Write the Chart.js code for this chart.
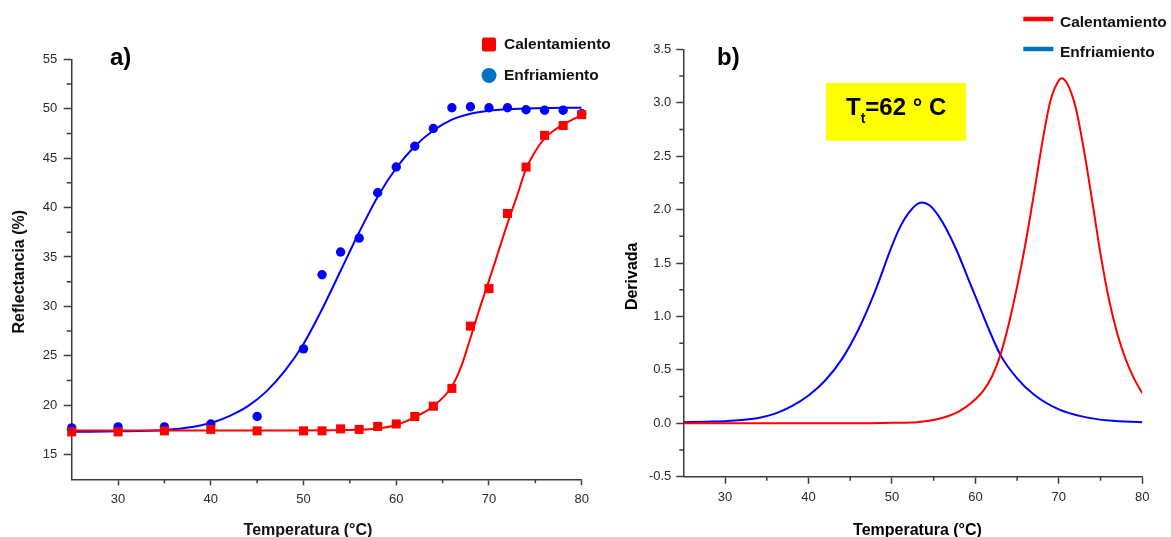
<!DOCTYPE html>
<html>
<head>
<meta charset="utf-8">
<script src="https://cdn.jsdelivr.net/npm/chart.js@4.4.1/dist/chart.umd.min.js"></script>
<style>
  body { margin: 0; background: #fff; }
  #wrap { position: relative; width: 1171px; height: 537px; }
  canvas { position: absolute; top: 0; }
  #chartA { left: 0; }
  #chartB { left: 600px; }
</style>
</head>
<body>
<div id="wrap">
  <canvas id="chartA" width="640" height="537"></canvas>
  <canvas id="chartB" width="571" height="537"></canvas>
</div>
<script>
const seriesNames = ['Calentamiento', 'Enfriamiento'];

// a) measured reflectance (%)
const tempMeas = [25, 30, 35, 40, 45, 50, 52, 54, 56, 58, 60, 62, 64, 66, 68, 70, 72, 74, 76, 78, 80];
const reflCal = [17.3, 17.3, 17.4, 17.55, 17.4, 17.4, 17.4, 17.6, 17.55, 17.85, 18.1, 18.85, 19.9, 21.7, 28.0, 31.8, 39.4, 44.1, 47.3, 48.3, 49.4];
const reflEnf = [17.7, 17.8, 17.8, 18.1, 18.85, 25.7, 33.2, 35.5, 36.9, 41.5, 44.1, 46.2, 48.0, 50.1, 50.2, 50.1, 50.1, 49.9, 49.85, 49.85, 49.5];

// a) fitted curves
const fitCalX = [25, 35, 45, 55, 58, 60, 62, 64, 66, 67, 68, 69, 70, 71, 72, 73, 74, 75, 76, 77, 78, 79, 80];
const fitCalY = [17.45, 17.45, 17.45, 17.5, 17.65, 18.0, 18.8, 19.9, 21.9, 23.9, 26.8, 29.8, 32.6, 35.5, 38.4, 41.1, 43.9, 45.7, 47.0, 47.8, 48.4, 48.9, 49.35];
const fitEnfX = [25, 30, 35, 38, 40, 42, 44, 46, 48, 50, 52, 54, 56, 58, 60, 62, 64, 66, 68, 70, 72, 75, 80];
const fitEnfY = [17.3, 17.35, 17.5, 17.8, 18.2, 18.9, 19.9, 21.4, 23.5, 26.2, 29.7, 33.6, 37.5, 41.1, 44.0, 46.2, 47.8, 48.9, 49.5, 49.8, 49.95, 50.05, 50.1];

// b) derivative
const derCalX = [25, 30, 35, 40, 45, 50, 53, 55, 56, 57, 58, 59, 60, 61, 62, 63, 64, 65, 66, 67, 68, 69, 70, 70.3, 71, 72, 73, 74, 75, 76, 77, 78, 79, 80];
const derCalY = [0, 0, 0, 0, 0, 0.005, 0.01, 0.03, 0.05, 0.075, 0.11, 0.16, 0.225, 0.31, 0.44, 0.64, 0.93, 1.28, 1.68, 2.14, 2.62, 3.02, 3.21, 3.23, 3.18, 2.96, 2.56, 2.08, 1.58, 1.16, 0.84, 0.60, 0.42, 0.28];
const derEnfX = [25, 28, 30, 32, 34, 36, 38, 40, 42, 44, 46, 48, 50, 51, 52, 53, 53.6, 54.5, 55.5, 56.5, 57.8, 59, 60.2, 61.5, 63, 65, 67, 70, 73, 76, 80];
const derEnfY = [0.01, 0.015, 0.02, 0.03, 0.05, 0.09, 0.16, 0.26, 0.40, 0.60, 0.88, 1.24, 1.66, 1.84, 1.97, 2.05, 2.066, 2.04, 1.95, 1.82, 1.61, 1.38, 1.15, 0.90, 0.64, 0.42, 0.27, 0.13, 0.06, 0.025, 0.01];

// tick labels
const ticksAx = [30, 40, 50, 60, 70, 80];
const minorAx = [35, 45, 55, 65, 75];
const ticksAy = [15, 20, 25, 30, 35, 40, 45, 50, 55];
const minorAy = [17.5, 22.5, 27.5, 32.5, 37.5, 42.5, 47.5, 52.5];
const ticksBx = [30, 40, 50, 60, 70, 80];
const minorBx = [35, 45, 55, 65, 75];
const ticksBy = [-0.5, 0, 0.5, 1, 1.5, 2, 2.5, 3, 3.5];
const minorBy = [-0.25, 0.25, 0.75, 1.25, 1.75, 2.25, 2.75, 3.25];

const RED = '#ff0000';
const BLUE = '#0000ff';
const LEG_BLUE = '#0070c0';
const AXIS = '#3c3c3c';
const FONT = '"Liberation Sans", Arial, sans-serif';

const pts = (xs, ys) => xs.map((x, i) => ({x, y: ys[i]}));

function axis(min, max, ticks, tickLen, pad, size, horiz, fmt) {
  return {
    type: 'linear',
    min, max,
    afterBuildTicks: s => { s.ticks = ticks.map(v => ({value: v})); },
    afterFit: s => { if (horiz) s.height = size; else s.width = size; },
    grid: {drawOnChartArea: false, drawTicks: true, tickLength: tickLen, tickColor: AXIS, tickWidth: 1.5},
    border: {display: true, color: AXIS, width: 1.5},
    ticks: {
      font: {family: FONT, size: 13},
      color: '#2a2a2a',
      padding: pad,
      maxRotation: 0,
      autoSkip: false,
      callback: fmt || (v => v)
    }
  };
}

const minorTicks = {
  id: 'minorTicks',
  afterDraw(chart, args, opts) {
    const {ctx, scales: {x, y}} = chart;
    ctx.save();
    ctx.strokeStyle = AXIS;
    ctx.lineWidth = 1.5;
    ctx.beginPath();
    opts.x.forEach(v => {
      const p = x.getPixelForValue(v);
      ctx.moveTo(p, x.top);
      ctx.lineTo(p, x.top + opts.lenX);
    });
    opts.y.forEach(v => {
      const p = y.getPixelForValue(v);
      ctx.moveTo(y.right, p);
      ctx.lineTo(y.right - opts.lenY, p);
    });
    ctx.stroke();
    ctx.restore();
  }
};

const decorA = {
  id: 'decorA',
  afterDraw(chart) {
    const c = chart.ctx;
    c.save();
    c.fillStyle = '#000';
    c.textBaseline = 'alphabetic';
    c.font = 'bold 24px ' + FONT;
    c.fillText('a)', 110, 65);

    // legend
    c.fillStyle = RED;
    c.beginPath();
    c.roundRect(482, 37.5, 14, 14, 2);
    c.fill();
    c.fillStyle = LEG_BLUE;
    c.beginPath();
    c.arc(489, 75.5, 7.5, 0, Math.PI * 2);
    c.fill();
    c.fillStyle = '#111';
    c.font = 'bold 15.5px ' + FONT;
    c.textBaseline = 'middle';
    c.fillText(seriesNames[0], 504, 45);
    c.fillText(seriesNames[1], 504, 76);

    // axis titles
    c.font = 'bold 16px ' + FONT;
    c.textBaseline = 'alphabetic';
    c.textAlign = 'center';
    c.fillText('Temperatura (°C)', 308, 535);
    c.translate(24, 271.7);
    c.rotate(-Math.PI / 2);
    c.fillText('Reflectancia (%)', 0, 0);
    c.restore();
  }
};

const decorB = {
  id: 'decorB',
  afterDraw(chart) {
    const c = chart.ctx;
    c.save();
    c.fillStyle = '#000';
    c.textBaseline = 'alphabetic';
    c.font = 'bold 24px ' + FONT;
    c.fillText('b)', 117, 65);

    // legend
    c.lineWidth = 4.5;
    c.strokeStyle = RED;
    c.beginPath(); c.moveTo(423.3, 19); c.lineTo(453.3, 19); c.stroke();
    c.strokeStyle = LEG_BLUE;
    c.beginPath(); c.moveTo(423.3, 49); c.lineTo(453.3, 49); c.stroke();
    c.fillStyle = '#111';
    c.font = 'bold 15.5px ' + FONT;
    c.textBaseline = 'middle';
    c.fillText(seriesNames[0], 460, 22.5);
    c.fillText(seriesNames[1], 460, 52.5);

    // transition temperature box
    c.fillStyle = '#ffff00';
    c.fillRect(226, 83, 140, 57.7);
    c.fillStyle = '#000';
    c.textBaseline = 'alphabetic';
    let x = 246;
    c.font = 'bold 24px ' + FONT;
    c.fillText('T', x, 114.7);
    x += c.measureText('T').width;
    c.font = 'bold 14px ' + FONT;
    c.fillText('t', x, 123);
    x += c.measureText('t').width;
    c.font = 'bold 24px ' + FONT;
    c.fillText('=62 ° C', x, 114.7);

    // axis titles
    c.font = 'bold 16px ' + FONT;
    c.textAlign = 'center';
    c.fillText('Temperatura (°C)', 317.5, 535);
    c.translate(36.7, 276.3);
    c.rotate(-Math.PI / 2);
    c.fillText('Derivada', 0, 0);
    c.restore();
  }
};

new Chart(document.getElementById('chartA'), {
  type: 'scatter',
  data: {
    datasets: [
      {label: seriesNames[0], data: pts(tempMeas, reflCal), pointStyle: 'rect', pointRadius: 6.4,
        backgroundColor: RED, pointBorderWidth: 0, showLine: false, clip: false, order: 0},
      {label: seriesNames[1], data: pts(tempMeas, reflEnf), pointStyle: 'circle', pointRadius: 4.7,
        backgroundColor: BLUE, pointBorderWidth: 0, showLine: false, clip: false, order: 0},
      {label: seriesNames[0] + ' ajuste', data: pts(fitCalX, fitCalY), showLine: true, pointRadius: 0,
        borderColor: RED, borderWidth: 2, cubicInterpolationMode: 'monotone', order: 1},
      {label: seriesNames[1] + ' ajuste', data: pts(fitEnfX, fitEnfY), showLine: true, pointRadius: 0,
        borderColor: BLUE, borderWidth: 2, cubicInterpolationMode: 'monotone', order: 2}
    ]
  },
  options: {
    responsive: false,
    animation: false,
    events: [],
    layout: {padding: {top: 59.3, right: 58.3, left: 0, bottom: 0}},
    plugins: {
      legend: {display: false},
      tooltip: {enabled: false},
      minorTicks: {x: minorAx, y: minorAy, lenX: 4, lenY: 5}
    },
    scales: {
      x: axis(25, 80, ticksAx, 6, 6, 57.7, true),
      y: axis(12.5, 55, ticksAy, 8, 6.4, 71.7, false)
    }
  },
  plugins: [minorTicks, decorA]
});

new Chart(document.getElementById('chartB'), {
  type: 'scatter',
  data: {
    datasets: [
      {label: seriesNames[0], data: pts(derCalX, derCalY), showLine: true, pointRadius: 0,
        borderColor: RED, borderWidth: 2, cubicInterpolationMode: 'monotone', order: 0},
      {label: seriesNames[1], data: pts(derEnfX, derEnfY), showLine: true, pointRadius: 0,
        borderColor: BLUE, borderWidth: 2, cubicInterpolationMode: 'monotone', order: 1}
    ]
  },
  options: {
    responsive: false,
    animation: false,
    events: [],
    layout: {padding: {top: 49.3, right: 28.7, left: 0, bottom: 0}},
    plugins: {
      legend: {display: false},
      tooltip: {enabled: false},
      minorTicks: {x: minorBx, y: minorBy, lenX: 4, lenY: 4}
    },
    scales: {
      x: axis(25, 80, ticksBx, 7, 6, 60.3, true),
      y: axis(-0.5, 3.5, ticksBy, 7, 5, 83.3, false, v => v.toFixed(1))
    }
  },
  plugins: [minorTicks, decorB]
});
</script>
</body>
</html>
